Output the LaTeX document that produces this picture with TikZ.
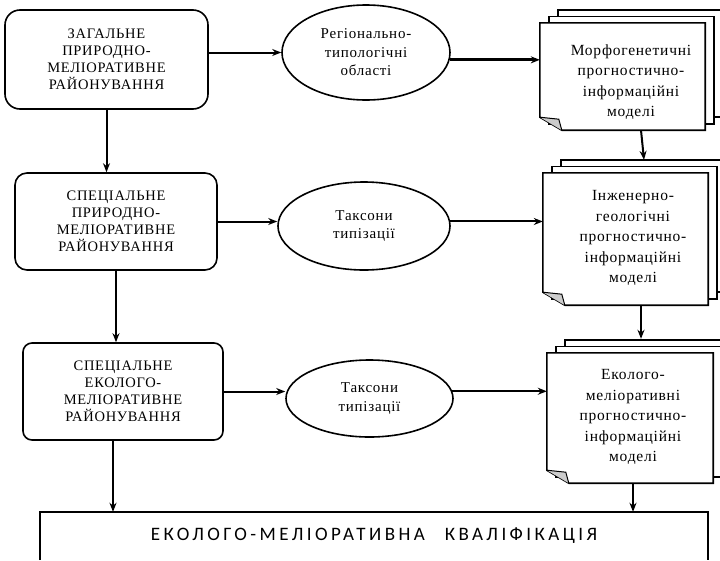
\documentclass[tikz,border=0pt]{standalone}
\usepackage{fontspec}
\setmainfont[LetterSpace=5]{Liberation Serif}
\newfontfamily\capfont[LetterSpace=18]{Carlito}
\usetikzlibrary{arrows.meta,shapes.geometric,calc}
\newcommand\mydocstack[1]{%
  \draw[page] ([shift={(18pt,13pt)}]#1.south west) rectangle ([shift={(18pt,13pt)}]#1.north east);
  \draw[page] ([shift={(9pt,6.5pt)}]#1.south west) rectangle ([shift={(9pt,6.5pt)}]#1.north east);
  \draw[page] (#1.north west) -- (#1.north east) -- (#1.south east) -- ([xshift=22pt]#1.south west) -- ([yshift=13pt]#1.south west) -- cycle;
  \fill[gray!40] ([yshift=13pt]#1.south west) -- ([shift={(19pt,11pt)}]#1.south west) -- ([xshift=22pt]#1.south west) -- cycle;
  \draw[line width=1pt] ([yshift=13pt]#1.south west) -- ([shift={(19pt,11pt)}]#1.south west) -- ([xshift=22pt]#1.south west);
}
\begin{document}
\begin{tikzpicture}[x=1pt,y=-1pt,
  rbox/.style={draw, line width=1.6pt, rounded corners=#1, align=center, inner sep=0pt, font=\fontsize{14.5}{17}\selectfont},
  rbox/.default=14pt,
  oval/.style={ellipse, draw, line width=1.6pt, inner sep=0pt, align=center, font=\fontsize{15}{18.5}\selectfont},
  page/.style={draw, fill=white, line width=1.6pt},
  docnode/.style={draw=none, inner sep=0pt},
  doctext/.style={align=center, inner sep=0pt, font=\fontsize{15.5}{20.5}\selectfont},
  arr/.style={-{Stealth[length=9pt,width=7pt]}, line width=2pt}]
\useasboundingbox (0,0) rectangle (720,560);

% left boxes
\node[rbox=15pt, minimum width=203pt, minimum height=99pt] (b1) at (106.5,59.5)
  {ЗАГАЛЬНЕ\\ПРИРОДНО-\\МЕЛІОРАТИВНЕ\\РАЙОНУВАННЯ};
\node[rbox=12pt, minimum width=202pt, minimum height=97pt] (b2) at (116,221.5)
  {СПЕЦІАЛЬНЕ\\ПРИРОДНО-\\МЕЛІОРАТИВНЕ\\РАЙОНУВАННЯ};
\node[rbox=9pt, minimum width=200pt, minimum height=97pt] (b3) at (123,391.5)
  {СПЕЦІАЛЬНЕ\\ЕКОЛОГО-\\МЕЛІОРАТИВНЕ\\РАЙОНУВАННЯ};

% ellipses
\node[oval, minimum width=168pt, minimum height=95pt] (e1) at (366,52.5)
  {Регіонально-\\типологічні\\області};
\node[oval, minimum width=172pt, minimum height=88pt] (e2) at (364,226)
  {Таксони\\типізації};
\node[oval, minimum width=167pt, minimum height=77pt] (e3) at (369.5,398.5)
  {Таксони\\типізації};

% documents
\node[docnode, minimum width=165pt, minimum height=107pt] (d1) at (622.5,76.5) {};
\mydocstack{d1}
\node[doctext] (d1t) at (631,82) {Морфогенетичні\\прогностично-\\інформаційні\\моделі};

\node[docnode, minimum width=165pt, minimum height=132pt] (d2) at (625.5,239) {};
\mydocstack{d2}
\node[doctext] (d2t) at (633,238) {Інженерно-\\геологічні\\прогностично-\\інформаційні\\моделі};

\node[docnode, minimum width=166pt, minimum height=130pt] (d3) at (630,418) {};
\mydocstack{d3}
\node[doctext] (d3t) at (633,417) {Еколого-\\меліоративні\\прогностично-\\інформаційні\\моделі};

% bottom box
\node[draw=none, minimum width=668pt, minimum height=48pt, inner sep=0pt,
  font=\capfont\fontsize{19}{21}\selectfont] (big) at (374,536)
  {ЕКОЛОГО-МЕЛІОРАТИВНА\hspace{20pt}КВАЛІФІКАЦІЯ};
\draw[line width=1.6pt] (big.south west) -- (big.north west) -- (big.north east) -- (big.south east);

% connectors
\draw[arr] (e1.west -| b1.east) -- (e1.west);
\draw[arr, line width=3.2pt] (e1.-5) -- (e1.-5 -| d1.west);
\draw[arr] (b1.south) -- (b1.south |- b2.north);
\draw[arr] (b2.east) -- (b2.east -| e2.west);
\draw[arr] (e2.3) -- (e2.3 -| d2.west);
\draw[arr] (b2.south) -- (b2.south |- b3.north);
\draw[arr] (b3.east) -- (b3.east -| e3.west);
\draw[arr] (e3.5) -- (e3.5 -| d3.west);
\draw[arr] ([xshift=-10pt]b3.south) -- ([xshift=-10pt]b3.south |- big.north);
\draw[arr] ([xshift=18.5pt]d1.south) -- ([shift={(18.5pt,13pt)}]d2.north);
\draw[arr] ([xshift=15.5pt]d2.south) -- ([shift={(11pt,14pt)}]d3.north);
\draw[arr] ([xshift=3pt]d3.south) -- ([xshift=3pt]d3.south |- big.north);
\end{tikzpicture}
\end{document}
